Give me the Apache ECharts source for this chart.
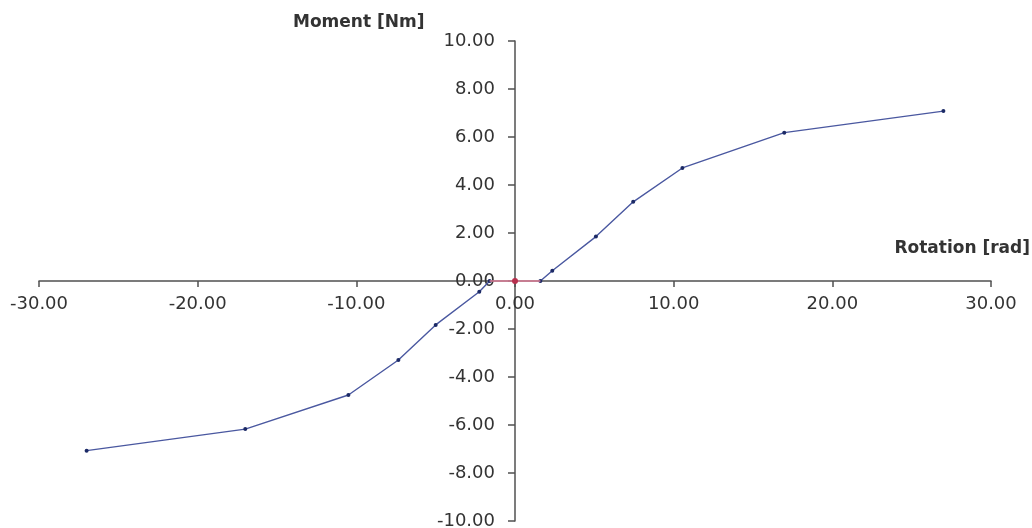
<!DOCTYPE html>
<html>
<head>
<meta charset="utf-8">
<script src="https://cdn.jsdelivr.net/npm/echarts@6/dist/echarts.min.js"></script>
<style>
html,body{margin:0;padding:0;background:#fff;}
#chart{width:1032px;height:528px;}
</style>
</head>
<body>
<div id="chart"></div>
<script>
// Data
var rotationLeft = [-27.0, -17.0, -10.5, -7.35, -5.0, -2.25, -1.6];
var momentLeft   = [-7.07, -6.17, -4.75, -3.29, -1.83, -0.45, 0];
var rotationRight = [1.6, 2.35, 5.1, 7.45, 10.55, 16.97, 27.0];
var momentRight   = [0, 0.43, 1.85, 3.30, 4.71, 6.18, 7.08];
var rotationSlip = [-1.6, 0, 1.6];
var momentSlip   = [0, 0, 0];
var xTicks = [-30, -20, -10, 0, 10, 20, 30];
var yTicks = [-10, -8, -6, -4, -2, 0, 2, 4, 6, 8, 10];

function pairs(xs, ys) { return xs.map(function (x, i) { return [x, ys[i]]; }); }

var chart = echarts.init(document.getElementById('chart'));
var font = 'DejaVu Sans';
var axisColor = '#505050';
var textColor = '#333';
var gridW = 952, gridH = 480;

chart.setOption({
  backgroundColor: '#fff',
  animation: false,
  grid: { left: 39, top: 41, width: gridW, height: gridH, containLabel: false, outerBoundsMode: 'none' },
  xAxis: {
    type: 'value', position: 'bottom', offset: -gridH / 2,
    min: xTicks[0], max: xTicks[xTicks.length - 1], interval: 10,
    axisLine: { onZero: false, lineStyle: { color: axisColor, width: 1.5 } },
    axisTick: { show: true, inside: false, length: 6, lineStyle: { color: axisColor, width: 1.5 } },
    axisLabel: { margin: 14, fontFamily: font, fontSize: 18, color: textColor, hideOverlap: false,
      formatter: function (v) { return v.toFixed(2); } },
    splitLine: { show: false }
  },
  yAxis: {
    type: 'value', position: 'left', offset: -gridW / 2,
    min: yTicks[0], max: yTicks[yTicks.length - 1], interval: 2,
    axisLine: { onZero: false, lineStyle: { color: axisColor, width: 1.5 } },
    axisTick: { show: true, inside: false, length: 7, lineStyle: { color: axisColor, width: 1.5 } },
    axisLabel: { margin: 20, fontFamily: font, fontSize: 18, color: textColor, hideOverlap: false,
      formatter: function (v) { return v.toFixed(2); } },
    splitLine: { show: false }
  },
  graphic: [
    { type: 'text', left: 293, top: 14,
      style: { text: 'Moment [Nm]', font: 'bold 17px "DejaVu Sans"', fill: '#333' } },
    { type: 'text', right: 2, top: 240,
      style: { text: 'Rotation [rad]', font: 'bold 17px "DejaVu Sans"', fill: '#333' } }
  ],
  series: [
    {
      type: 'line', data: pairs(rotationLeft, momentLeft),
      symbol: 'circle', symbolSize: 4, showAllSymbol: true,
      lineStyle: { color: '#4a58a0', width: 1.4 },
      itemStyle: { color: '#1c2a66' }, z: 3
    },
    {
      type: 'line', data: pairs(rotationRight, momentRight),
      symbol: 'circle', symbolSize: 4, showAllSymbol: true,
      lineStyle: { color: '#4a58a0', width: 1.4 },
      itemStyle: { color: '#1c2a66' }, z: 3
    },
    {
      type: 'line', data: pairs(rotationSlip, momentSlip),
      symbol: function (v) { return v[0] === 0 ? 'circle' : 'none'; },
      symbolSize: 6, showAllSymbol: true,
      lineStyle: { color: '#e0809a', width: 1.5 },
      itemStyle: { color: '#b8304e' }, z: 4
    }
  ]
});
</script>
</body>
</html>
